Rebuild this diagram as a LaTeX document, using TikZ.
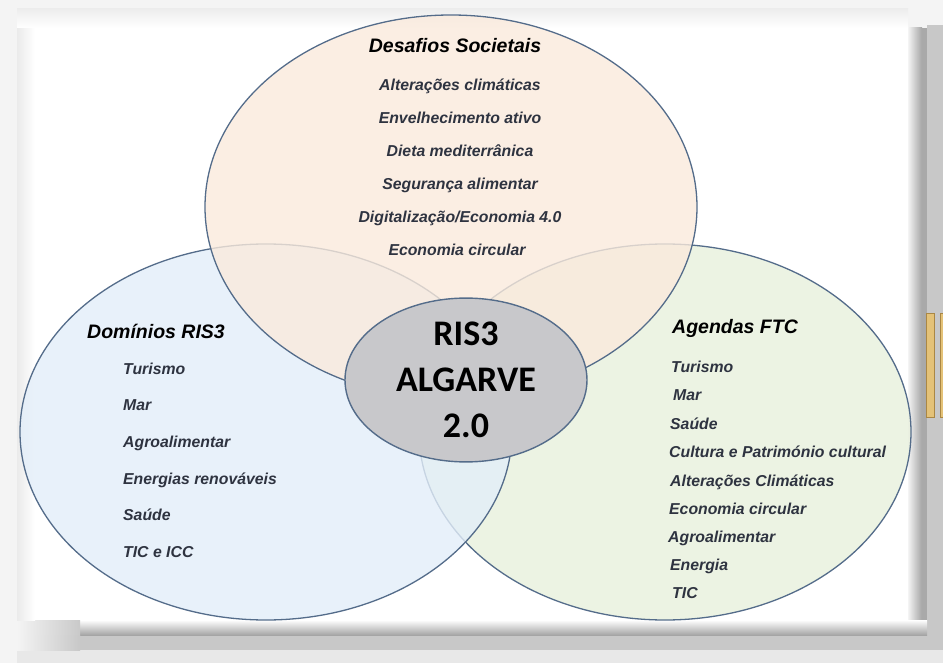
\documentclass[tikz,border=0pt]{standalone}
\usepackage{fontspec}
\setmainfont{Liberation Sans}
\newfontfamily\calfont{Carlito}
\usetikzlibrary{shapes.geometric}
\definecolor{bg}{HTML}{F4F4F4}
\definecolor{ring}{RGB}{84,108,138}
\definecolor{topfill}{RGB}{250,234,220}
\definecolor{leftfill}{RGB}{227,238,249}
\definecolor{rightfill}{RGB}{232,240,221}
\definecolor{hubfill}{RGB}{200,200,203}
\definecolor{itemcol}{RGB}{46,51,64}
\definecolor{gold}{RGB}{228,194,120}
\definecolor{golddark}{RGB}{170,135,68}
\definecolor{shadowdark}{RGB}{165,165,165}
\definecolor{shadowmid}{RGB}{200,200,200}
\definecolor{shadowlight}{RGB}{232,232,232}
\tikzset{
  ringfill/.style={ellipse, inner sep=0pt, minimum width=492pt, minimum height=376pt, fill opacity=0.8, draw=ring, line width=1.3pt},
  item/.style={font=\fontsize{15.8}{18}\selectfont\bfseries\itshape, text=itemcol, inner sep=0pt},
  heading/.style={font=\fontsize{19.5}{22}\selectfont\bfseries\itshape, text=black, inner sep=0pt},
  hub/.style={ellipse, inner sep=0pt, minimum width=242pt, minimum height=146pt, fill=hubfill, draw=ring, line width=1.4pt,
    align=center, font=\calfont\bfseries\fontsize{36}{46}\selectfont},
  goldbar/.style={fill=gold, draw=golddark, line width=0.6pt}
}
\begin{document}
\begin{tikzpicture}[x=1pt,y=-1pt]
\useasboundingbox (0,0) rectangle (943,663);
% background and panel
\fill[bg] (0,0) rectangle (943,663);
\fill[shadowlight] (17,650) rectangle (943,663);
\fill[shadowmid] (927,25) rectangle (943,650);
\fill[shadowmid] (80,635) rectangle (943,650);
\shade[left color=white, right color=shadowdark] (906,28) rectangle (922,635);
\fill[shadowdark!90!shadowmid] (922,28) rectangle (927,635);
\shade[top color=white, bottom color=shadowdark] (80,620) rectangle (927,635);
\shade[left color=bg, right color=shadowdark!60!white] (17,620) rectangle (80,635);
\shade[left color=bg, right color=shadowmid] (17,635) rectangle (80,650);
\fill[white] (17,9) rectangle (908,620);
\shade[left color=black!8, right color=white] (17,9) rectangle (35,620);
\shade[top color=black!7, bottom color=white] (17,9) rectangle (908,28);
% gold bars
\draw[goldbar] (926,313) rectangle (934,417);
\draw[goldbar] (940,313) rectangle (948,417);
% circles (right, left, then top on top)
\node[ringfill, fill=rightfill] (right) at (665,432) {};
\node[ringfill, fill=leftfill] (left) at (266,432) {};
\node[ringfill, fill=topfill, minimum height=384pt] (top) at (451,207) {};
% centre
\node[hub] (hubnode) at (466,380) {RIS3\\ALGARVE\\2.0};
% top texts
\node[heading, anchor=mid] (ttitle) at (455,50) {Desafios Societais};
\node[item, anchor=mid] (t1) at (460,88) {Alterações climáticas};
\node[item, anchor=mid] (t2) at (460,121) {Envelhecimento ativo};
\node[item, anchor=mid] (t3) at (460,154) {Dieta mediterrânica};
\node[item, anchor=mid] (t4) at (460,187) {Segurança alimentar};
\node[item, anchor=mid] (t5) at (460,220) {Digitalização/Economia 4.0};
\node[item, anchor=mid] (t6) at (457,253) {Economia circular};
% left texts
\node[heading, anchor=mid west] (ltitle) at (87,336) {Domínios RIS3};
\node[item, anchor=mid west] (l1) at (123,372) {Turismo};
\node[item, anchor=mid west] (l2) at (123,408) {Mar};
\node[item, anchor=mid west] (l3) at (123,445) {Agroalimentar};
\node[item, anchor=mid west] (l4) at (123,482) {Energias renováveis};
\node[item, anchor=mid west] (l5) at (123,518) {Saúde};
\node[item, anchor=mid west] (l6) at (123,555) {TIC e ICC};
% right texts
\node[heading, anchor=mid west] (rtitle) at (672,331) {Agendas FTC};
\node[item, anchor=mid west] (r1) at (671,370) {Turismo};
\node[item, anchor=mid west] (r2) at (673,398) {Mar};
\node[item, anchor=mid west] (r3) at (670,427) {Saúde};
\node[item, anchor=mid west] (r4) at (669,455) {Cultura e Património cultural};
\node[item, anchor=mid west] (r5) at (670,484) {Alterações Climáticas};
\node[item, anchor=mid west] (r6) at (669,512) {Economia circular};
\node[item, anchor=mid west] (r7) at (668,540) {Agroalimentar};
\node[item, anchor=mid west] (r8) at (670,568) {Energia};
\node[item, anchor=mid west] (r9) at (672,596) {TIC};
\end{tikzpicture}
\end{document}
